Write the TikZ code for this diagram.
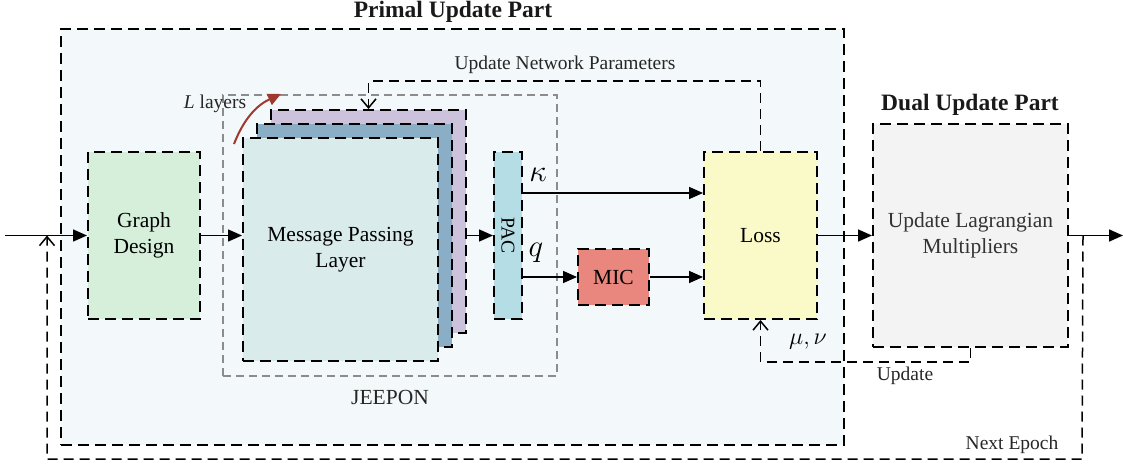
\documentclass[tikz,border=0pt]{standalone}
\usepackage{fix-cm}
\usepackage{fontspec}
\setmainfont{Liberation Serif}
\usetikzlibrary{arrows.meta, positioning}

\definecolor{primalbg}{HTML}{F3F9FA}
\definecolor{graphbg}{HTML}{D5EFDA}
\definecolor{frontbg}{HTML}{DAEBEB}
\definecolor{midbg}{HTML}{8AAEC6}
\definecolor{backbg}{HTML}{CDC2DC}
\definecolor{pacbg}{HTML}{B5DDE6}
\definecolor{micbg}{HTML}{E9877E}
\definecolor{lossbg}{HTML}{FAFAC8}
\definecolor{dualbg}{HTML}{F3F3F3}
\definecolor{arcred}{HTML}{A0392D}

\begin{document}
\begin{tikzpicture}[
  x=1pt, y=-1pt,
  box/.style={draw, rectangle, line width=2pt, dash pattern=on 11pt off 6pt,
    inner sep=0pt, align=center, font=\fontsize{21.5}{26}\selectfont},
  arrow/.style={-{Triangle[length=14pt, width=12pt]}, line width=1.6pt},
  fb/.style={-{Straight Barb[length=9pt, width=15pt]}, line width=1.5pt,
    dash pattern=on 10pt off 6pt},
  lbl/.style={font=\fontsize{19.5}{23}\selectfont, text=black!85},
  ttl/.style={font=\bfseries\fontsize{23.5}{28}\selectfont, text=black!90}
]
  \useasboundingbox (0,0) rectangle (1123,465);

  % primal part
  \node[box, fill=primalbg, minimum width=783pt, minimum height=416pt] (primal) at (452.5,237) {};
  \node[ttl] (ptitle) at (453,12) {Primal Update Part};

  % JEEPON
  \node[draw=black!45, line width=1.1pt, dash pattern=on 8pt off 5pt, minimum width=334pt,
    minimum height=281pt] (jeepon) at (390,235.5) {};
  \node[lbl, font=\fontsize{21.5}{26}\selectfont] (jlab) at (390,397) {JEEPON};

  \node[box, fill=graphbg, minimum width=112pt, minimum height=167pt] (graph) at (144,235.5) {Graph\\Design};

  % stacked layers
  \node[box, fill=backbg, minimum width=195pt, minimum height=223pt] (back) at (368.5,221.5) {};
  \node[box, fill=midbg, minimum width=195pt, minimum height=223pt] (mid) at (354.5,235.5) {};
  \node[box, fill=frontbg, minimum width=195pt, minimum height=223pt] (front) at (340.5,249.5) {Message Passing\\Layer};
  \node[lbl] (llab) at (215,104) {\textit{L} layers};
  \draw[arcred, line width=2pt, -{Triangle[length=13pt, width=12pt]}] (234,144) to[bend left=22] (281,94);

  \node[box, fill=pacbg, minimum width=28pt, minimum height=167pt] (pac) at (508,235.5)
    {\fontsize{19.5}{23}\selectfont\rotatebox{-90}{PAC}};
  \node[box, fill=micbg, minimum width=71pt, minimum height=56pt] (mic) at (613.5,277) {MIC};
  \node[box, fill=lossbg, minimum width=113pt, minimum height=167pt] (loss) at (760.5,235.5) {Loss};

  % dual part
  \node[box, fill=dualbg, minimum width=195pt, minimum height=223pt, text=black!80] (dual) at (970.5,235.5)
    {Update Lagrangian\\Multipliers};
  \node[ttl] (dtitle) at (970,105) {Dual Update Part};

  \coordinate (in) at (5,235.5);
  \coordinate (out) at (1123,235.5);
  \coordinate (neR) at (1082,459);
  \coordinate (neL) at (47,459);

  \draw[arrow] (in) -- (graph.west);
  \draw[arrow] (graph.east) -- (graph.east -| front.west);
  \draw[arrow] (back.east |- pac.west) -- (pac.west);
  \draw[arrow] ([yshift=42.5pt]pac.east) -- ([yshift=42.5pt]loss.west);
  \draw[arrow] (pac.east |- mic.west) -- (mic.west);
  \draw[arrow] (mic.east) -- (mic.east -| loss.west);
  \draw[arrow] (loss.east) -- (dual.west);
  \draw[arrow] (dual.east) -- (out);

  \node[font=\fontsize{31}{34}\selectfont] (kap) at (538,175) {$\kappa$};
  \node[font=\fontsize{31}{34}\selectfont] (qq) at (536,253) {$q$};

  % feedback loops
  \draw[fb] (loss.north) -- ++(0,-70) -| (back.north);
  \node[lbl] (unp) at (565,65) {Update Network Parameters};
  \draw[fb] (dual.south) -- ++(0,14) -| (loss.south);
  \node[font=\fontsize{24}{28}\selectfont] (mn) at (808,342) {$\mu,\nu$};
  \node[lbl] (ulab) at (905,376) {Update};
  \draw[fb] ([xshift=14pt]dual.east) -- (neR) -- (neL) -- (neL |- in);
  \node[lbl] (nelab) at (1012,445) {Next Epoch};
\end{tikzpicture}
\end{document}
